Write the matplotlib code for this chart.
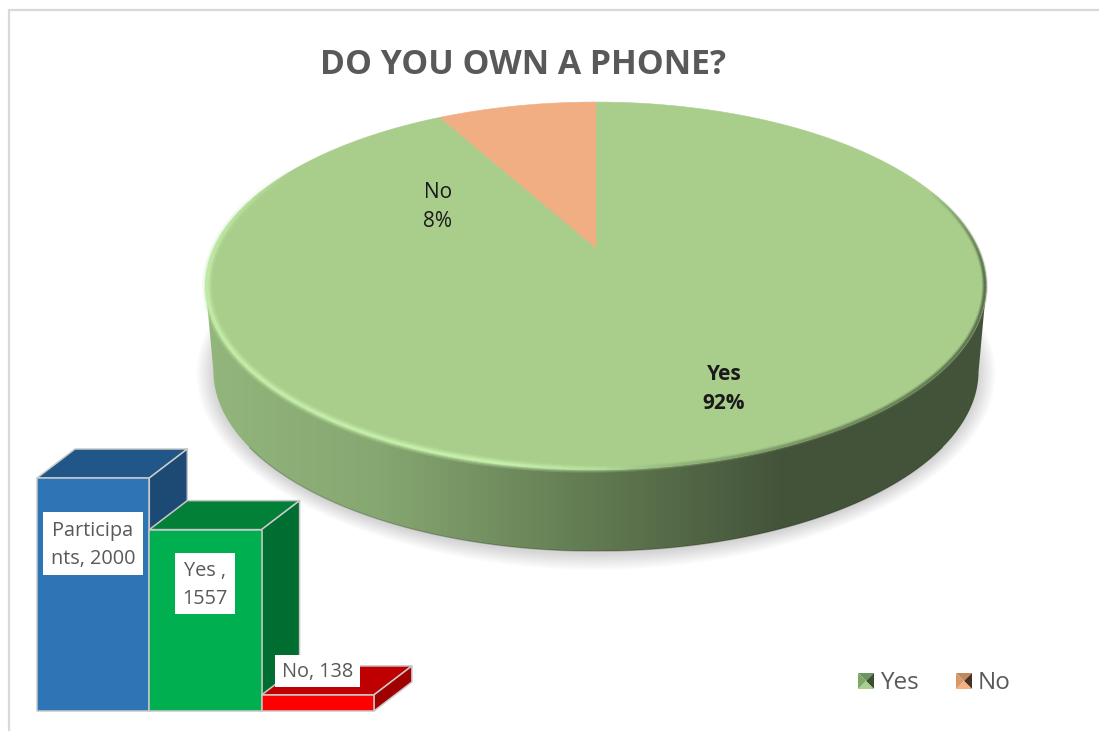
import numpy as np
import matplotlib
matplotlib.use("Agg")
import matplotlib.pyplot as plt
from matplotlib.collections import LineCollection
from matplotlib.colors import LinearSegmentedColormap
from matplotlib.patches import Polygon

plt.rcParams["font.family"] = ["Open Sans", "DejaVu Sans"]

# pie data
pie_labels = ["Yes", "No"]
pie_shares = [92, 8]
pie_colors = ["#A9CE8C", "#F0AE82"]
legend_faces = [["#6f9460", "#3c4d30", "#a8d08d", "#7da868"],
                ["#c08a60", "#4a3220", "#f4b183", "#d89868"]]

# bar data
bar_names = ["Participants", "Yes", "No"]
bar_values = [2000, 1557, 138]
bar_text = ["Participa\nnts, 2000", "Yes ,\n1557", "No, 138"]
bar_front = ["#2E75B6", "#00B050", "#FF0000"]
bar_top = ["#215788", "#038038", "#BF0000"]
bar_side = ["#1D4A75", "#006E30", "#A00000"]

TEXT_GREY = "#595959"
W, H = 1099, 731

# pie geometry, pixels
APEX_X, APEX_Y = 596, 248
PIE_B, PIE_A, PIE_K = 382, 176, 0.206
BASE_SCALE, BASE_DROP = 0.98, 86


def ring(theta_deg, scale=1.0, drop=0.0):
    # circle seen in perspective, theta clockwise from the back of the disc
    t = np.radians(theta_deg)
    u, v = np.sin(t), np.cos(t)
    d = 1 + PIE_K * v
    return APEX_X + scale * PIE_B * u / d, APEX_Y + drop - scale * PIE_A * v / d


def draw_shadow(ax, xs, ys):
    # stacked low-alpha outlines around the base of the disc
    cx, cy = xs.mean(), ys.mean()
    for grow in np.linspace(17, 1, 14):
        dx = xs - cx
        dy = ys - cy
        r = np.hypot(dx, dy)
        px = xs + grow * dx / r
        py = ys + grow * dy / r + 2
        ax.add_patch(Polygon(np.c_[px, py], fc="#000000", ec="none", alpha=0.012, zorder=1))


def draw_pie(ax):
    theta = np.linspace(0, 360, 721)
    tx, ty = ring(theta)
    bx, by = ring(theta, BASE_SCALE, BASE_DROP)
    draw_shadow(ax, bx, by)

    # wall runs between the left and right extremes through the front
    il, ir = np.argmin(tx), np.argmax(tx)
    wall_x = np.r_[tx[ir:il + 1], bx[ir:il + 1][::-1]]
    wall_y = np.r_[ty[ir:il + 1], by[ir:il + 1][::-1]]

    wall_cmap = LinearSegmentedColormap.from_list(
        "wall",
        [(0.0, "#92b67c"), (0.22, "#86a771"), (0.5, "#617a51"),
         (0.74, "#43533a"), (1.0, "#43533a")],
    )
    x0, x1 = tx.min(), tx.max()
    y0, y1 = ty.min(), by.max()
    img = ax.imshow(np.linspace(0, 1, 256)[None, :], cmap=wall_cmap, aspect="auto",
                    extent=(x0, x1, y1, y0), zorder=2)
    wall = Polygon(np.c_[wall_x, wall_y], fc="none", ec="none", transform=ax.transData)
    ax.add_patch(wall)
    img.set_clip_path(wall)
    # darker line only along the lower part of the base
    low = (theta > 125) & (theta < 235)
    ax.plot(bx[low], by[low], color="black", alpha=0.2, lw=1.0, zorder=2)

    # slices, clockwise from the back of the disc
    start = 0.0
    total = sum(pie_shares)
    for share, color in zip(pie_shares, pie_colors):
        sweep = 360.0 * share / total
        th = np.linspace(start, start + sweep, 400)
        sx, sy = ring(th)
        ax.add_patch(Polygon(np.c_[np.r_[APEX_X, sx], np.r_[APEX_Y, sy]],
                             fc=color, ec=color, lw=0.4, zorder=3))
        start += sweep

    # soft rim on the top edge, bright on the left and dark on the right
    rim_cmap = LinearSegmentedColormap.from_list(
        "rim",
        [(0.0, "#c4eeaa"), (0.38, "#c8f2ae"), (0.5, "#b8e09e"),
         (0.62, "#8fb077"), (0.8, "#6f8a5c"), (1.0, "#55694a")],
    )
    th = np.linspace(70, 300, 600)
    rx, ry = ring(th, 0.996)
    pts = np.c_[rx, ry][:, None, :]
    segs = np.concatenate([pts[:-1], pts[1:]], axis=1)
    pos = (rx[:-1] - x0) / (x1 - x0)
    fade = np.clip((th[:-1] - 70) / 30, 0, 1) * np.clip((300 - th[:-1]) / 40, 0, 1)
    narrow = np.interp(pos, [0.35, 0.65], [1.0, 0.6])
    for lw, alpha in [(7.0, 0.2), (5.0, 0.3), (3.2, 0.5), (1.8, 0.75)]:
        cols = rim_cmap(pos)
        cols[:, 3] = alpha * fade
        ax.add_collection(LineCollection(segs, colors=cols, linewidths=lw * narrow,
                                         capstyle="butt", zorder=4))


def draw_bars(ax):
    left, width, base = 37, 112.3, 711
    per_unit = 233 / 2000
    dx, dy = 38, -29
    edge = dict(ec="#c9c9c9", lw=1.1, joinstyle="round")
    # back to front, so each bar overlaps the side of the previous one
    for i, value in enumerate(bar_values):
        x0 = left + i * width
        x1 = x0 + width
        top = base - value * per_unit
        ax.add_patch(Polygon([(x0, top), (x1, top), (x1 + dx, top + dy), (x0 + dx, top + dy)],
                             fc=bar_top[i], zorder=5 + i, **edge))
        ax.add_patch(Polygon([(x1, top), (x1 + dx, top + dy), (x1 + dx, base + dy), (x1, base)],
                             fc=bar_side[i], zorder=5 + i, **edge))
        ax.add_patch(Polygon([(x0, top), (x1, top), (x1, base), (x0, base)],
                             fc=bar_front[i], zorder=5 + i, **edge))


def draw_bar_labels(ax):
    boxes = [(43, 512, 100, 63), (175, 553, 60, 61), (275, 655, 85, 32)]
    for text, (bx, by, bw, bh) in zip(bar_text, boxes):
        ax.add_patch(Polygon([(bx, by), (bx + bw, by), (bx + bw, by + bh), (bx, by + bh)],
                             fc="white", ec="none", zorder=10))
        ax.text(bx + bw / 2, by + bh / 2 + 1.5, text, ha="center", va="center", color=TEXT_GREY,
                fontsize=14.3, linespacing=1.58, zorder=11)


def draw_legend(ax):
    y = 681
    half = 8
    marks = [858 + half, 956 + half]
    text_x = [880, 978]
    for i, name in enumerate(pie_labels):
        cx = marks[i]
        # pyramid swatch: top, right, bottom, left
        corners = [(cx - half, y - half), (cx + half, y - half), (cx + half, y + half), (cx - half, y + half)]
        for k in range(4):
            ax.add_patch(Polygon([corners[k], corners[(k + 1) % 4], (cx, y)], ec="none",
                                 fc=legend_faces[i][k], zorder=6))
        ax.text(text_x[i], y + 2, name, ha="left", va="center", color=TEXT_GREY, fontsize=17.5)


fig = plt.figure(figsize=(W / 100, H / 100), dpi=100, facecolor="white")
ax = fig.add_axes([0, 0, 1, 1])

draw_pie(ax)
draw_bars(ax)
draw_bar_labels(ax)
draw_legend(ax)

ax.set_xlim(0, W)
ax.set_ylim(H, 0)
ax.axis("off")

# chart frame
ax.plot([9, 9, W], [H, 10, 10], color="#d9d9d9", lw=1.6, zorder=0)

ax.text(523, 65, "DO YOU OWN A PHONE?", ha="center", va="center", color=TEXT_GREY,
        fontsize=24.3, fontweight="bold")
ax.text(438, 207, f"{pie_labels[1]}\n{pie_shares[1]}%", ha="center", va="center",
        color="#1a1a1a", fontsize=15, linespacing=1.45, zorder=8)
ax.text(724, 389, f"{pie_labels[0]}\n{pie_shares[0]}%", ha="center", va="center",
        color="#1a1a1a", fontsize=15, fontweight="bold", linespacing=1.45, zorder=8)

fig.savefig("out.png", dpi=100)
